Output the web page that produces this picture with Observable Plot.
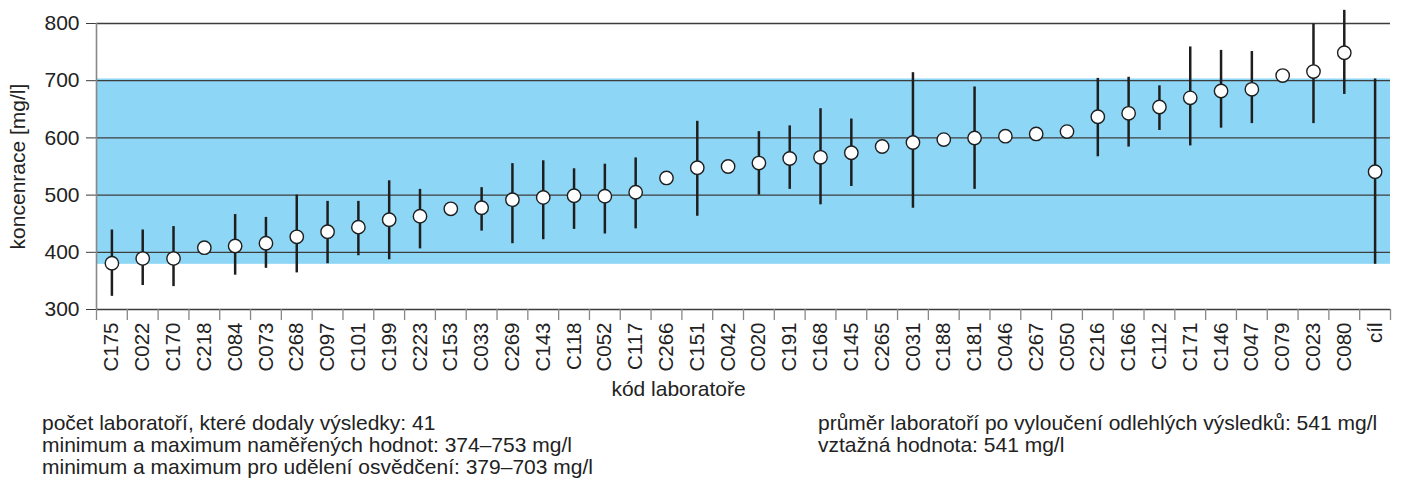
<!DOCTYPE html>
<html><head><meta charset="utf-8">
<script src="https://cdn.jsdelivr.net/npm/d3@7"></script>
<script src="https://cdn.jsdelivr.net/npm/@observablehq/plot@0.6"></script>
<style>
body{margin:0;background:#fff;font-family:"Liberation Sans",Arial,sans-serif;color:#222;}
#wrap{position:relative;width:1402px;height:483px;overflow:hidden;background:#fff}
.notes{position:absolute;top:412px;font-size:21px;line-height:22px;white-space:nowrap;color:#222}
</style></head><body>
<div id="wrap"><div id="chart"></div>
<div class="notes" style="left:42px">počet laboratoří, které dodaly výsledky: 41<br>minimum a maximum naměřených hodnot: 374–753 mg/l<br>minimum a maximum pro udělení osvědčení: 379–703 mg/l</div>
<div class="notes" style="left:818px">průměr laboratoří po vyloučení odlehlých výsledků: 541 mg/l<br>vztažná hodnota: 541 mg/l</div>
</div>
<script>
const labs = ["C175","C022","C170","C218","C084","C073","C268","C097","C101","C199","C223","C153","C033","C269","C143","C118","C052","C117","C266","C151","C042","C020","C191","C168","C145","C265","C031","C188","C181","C046","C267","C050","C216","C166","C112","C171","C146","C047","C079","C023","C080","cíl"];
const values = [381,389,389,408,411,416,427,436,444,457,463,476,478,492,496,499,498,505,530,548,550,556,564,566,574,585,592,597,600,603,607,611,637,643,654,670,682,685,709,716,749,541];
const lows  = [323,342,340,null,360,372,364,380,394,387,406,null,437,415,422,440,432,441,null,463,null,500,510,483,515,null,477,null,510,null,null,null,567,584,613,586,617,625,null,625,676,379];
const highs = [439,439,445,null,466,461,500,489,489,525,510,null,513,555,560,546,554,565,null,629,null,611,621,651,633,null,714,null,689,null,null,null,704,706,691,759,753,751,null,799,823,703];
const yTicks = [300,400,500,600,700,800];
const bandMin = 379, bandMax = 703;

const data = labs.map((lab,i)=>({lab, pos:i+0.5, value:values[i], lo:lows[i], hi:highs[i]}));
const bounds = d3.range(labs.length+1);
const font = "'Liberation Sans', Arial, sans-serif";

const plot = Plot.plot({
  width:1402, height:405, marginLeft:96, marginRight:12, marginTop:23, marginBottom:96,
  style:{fontFamily:font, fontSize:"20px", color:"#222", background:"#fff", overflow:"visible"},
  x:{domain:[0,labs.length], axis:null},
  y:{domain:[300,800], axis:null},
  marks:[
    Plot.rect([{lo:bandMin, hi:bandMax}], {y1:"lo", y2:"hi", fill:"#8ed6f6"}),
    Plot.ruleY(yTicks, {stroke:"#3c3c3c", strokeWidth:1.3}),
    Plot.axisY(yTicks, {tickSize:10, tickPadding:7, stroke:"#3c3c3c", fontSize:21, tickFormat:d=>String(d),
      label:"koncenrace [mg/l]", labelAnchor:"center", labelArrow:"none", labelOffset:86}),
    Plot.ruleX([0], {stroke:"#888", strokeWidth:1.6}),
    Plot.axisX(bounds, {tickSize:11, tickFormat:()=>"", stroke:"#888", strokeWidth:1.3, label:null}),
    Plot.axisX(data.map(d=>d.pos), {tickSize:0, tickRotate:-90, tickPadding:13, fontSize:20.5,
      tickFormat:p=>labs[Math.floor(p)], label:null}),
    Plot.text(["kód laboratoře"], {frameAnchor:"bottom", lineAnchor:"middle", dx:-65, dy:80, fontSize:21, fill:"#222"}),
    Plot.ruleX(data.filter(d=>d.lo!=null), {x:"pos", y1:"lo", y2:"hi", stroke:"#1e1e1e", strokeWidth:2.5}),
    Plot.dot(data, {x:"pos", y:"value", r:6.7, fill:"white", stroke:"#1e1e1e", strokeWidth:1.4})
  ]
});
document.getElementById("chart").appendChild(plot);
</script>
</body></html>
